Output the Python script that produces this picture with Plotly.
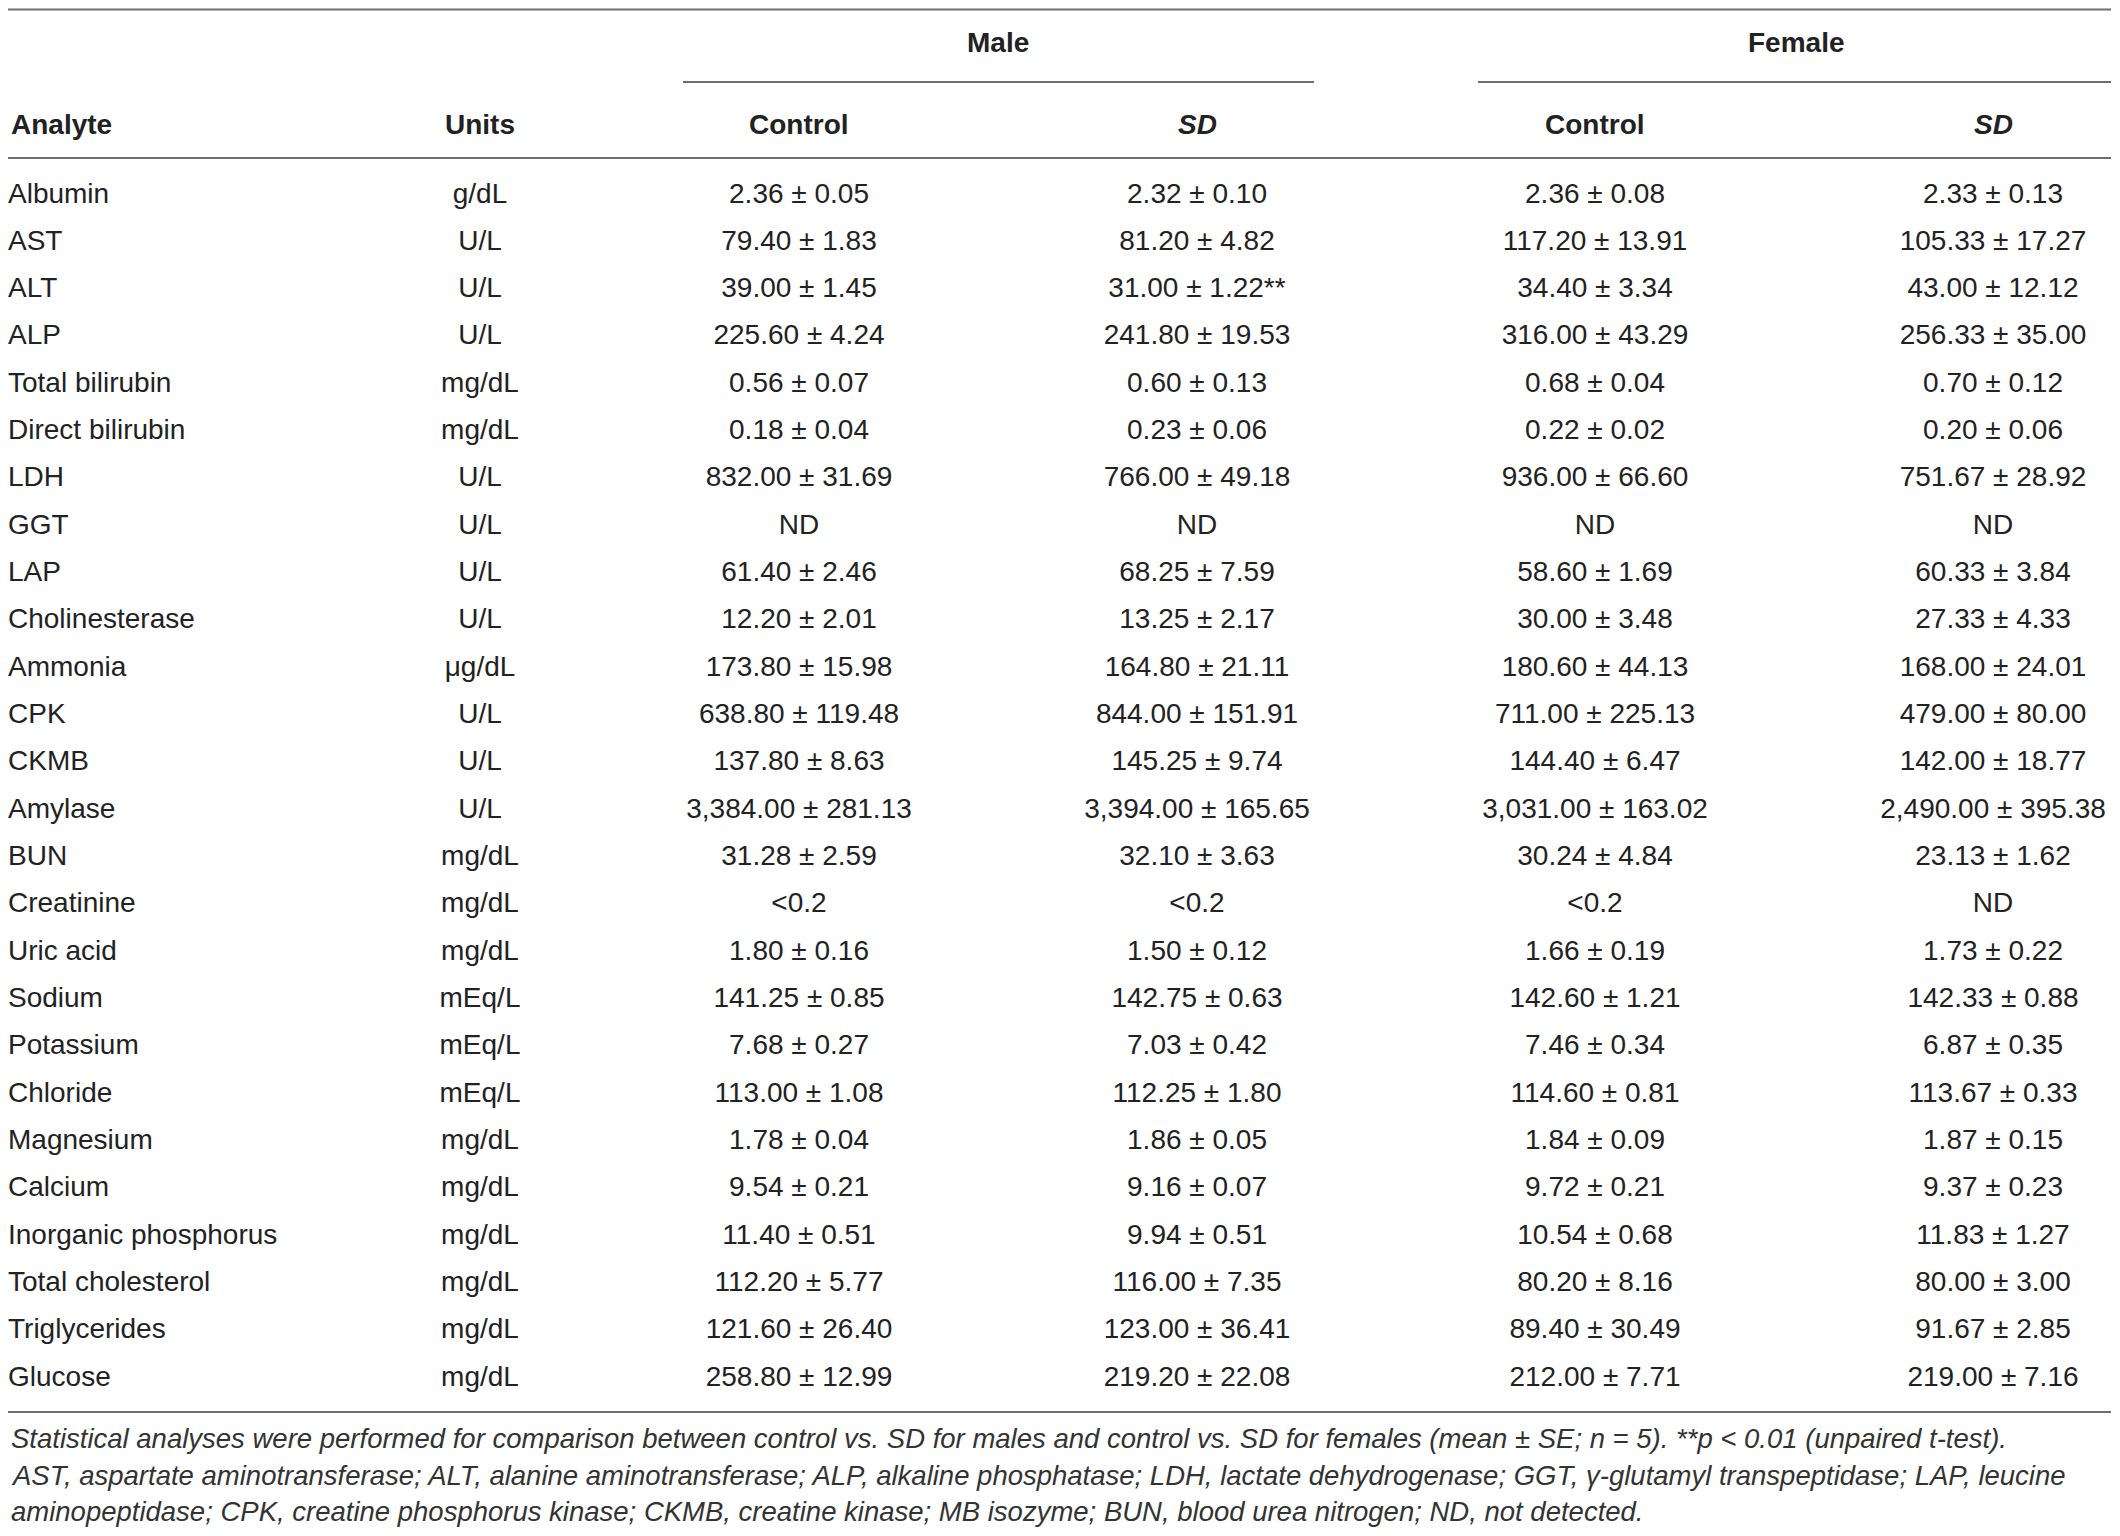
import plotly.graph_objects as go

# ---------------- data ----------------
analytes = ["Albumin", "AST", "ALT", "ALP", "Total bilirubin", "Direct bilirubin", "LDH", "GGT",
            "LAP", "Cholinesterase", "Ammonia", "CPK", "CKMB", "Amylase", "BUN", "Creatinine",
            "Uric acid", "Sodium", "Potassium", "Chloride", "Magnesium", "Calcium",
            "Inorganic phosphorus", "Total cholesterol", "Triglycerides", "Glucose"]
units = ["g/dL", "U/L", "U/L", "U/L", "mg/dL", "mg/dL", "U/L", "U/L", "U/L", "U/L", "μg/dL",
         "U/L", "U/L", "U/L", "mg/dL", "mg/dL", "mg/dL", "mEq/L", "mEq/L", "mEq/L", "mg/dL",
         "mg/dL", "mg/dL", "mg/dL", "mg/dL", "mg/dL"]
male_control = ["2.36 ± 0.05", "79.40 ± 1.83", "39.00 ± 1.45", "225.60 ± 4.24", "0.56 ± 0.07",
                "0.18 ± 0.04", "832.00 ± 31.69", "ND", "61.40 ± 2.46", "12.20 ± 2.01",
                "173.80 ± 15.98", "638.80 ± 119.48", "137.80 ± 8.63", "3,384.00 ± 281.13",
                "31.28 ± 2.59", "<0.2", "1.80 ± 0.16", "141.25 ± 0.85", "7.68 ± 0.27",
                "113.00 ± 1.08", "1.78 ± 0.04", "9.54 ± 0.21", "11.40 ± 0.51", "112.20 ± 5.77",
                "121.60 ± 26.40", "258.80 ± 12.99"]
male_sd = ["2.32 ± 0.10", "81.20 ± 4.82", "31.00 ± 1.22**", "241.80 ± 19.53", "0.60 ± 0.13",
           "0.23 ± 0.06", "766.00 ± 49.18", "ND", "68.25 ± 7.59", "13.25 ± 2.17",
           "164.80 ± 21.11", "844.00 ± 151.91", "145.25 ± 9.74", "3,394.00 ± 165.65",
           "32.10 ± 3.63", "<0.2", "1.50 ± 0.12", "142.75 ± 0.63", "7.03 ± 0.42",
           "112.25 ± 1.80", "1.86 ± 0.05", "9.16 ± 0.07", "9.94 ± 0.51", "116.00 ± 7.35",
           "123.00 ± 36.41", "219.20 ± 22.08"]
female_control = ["2.36 ± 0.08", "117.20 ± 13.91", "34.40 ± 3.34", "316.00 ± 43.29", "0.68 ± 0.04",
                  "0.22 ± 0.02", "936.00 ± 66.60", "ND", "58.60 ± 1.69", "30.00 ± 3.48",
                  "180.60 ± 44.13", "711.00 ± 225.13", "144.40 ± 6.47", "3,031.00 ± 163.02",
                  "30.24 ± 4.84", "<0.2", "1.66 ± 0.19", "142.60 ± 1.21", "7.46 ± 0.34",
                  "114.60 ± 0.81", "1.84 ± 0.09", "9.72 ± 0.21", "10.54 ± 0.68", "80.20 ± 8.16",
                  "89.40 ± 30.49", "212.00 ± 7.71"]
female_sd = ["2.33 ± 0.13", "105.33 ± 17.27", "43.00 ± 12.12", "256.33 ± 35.00", "0.70 ± 0.12",
             "0.20 ± 0.06", "751.67 ± 28.92", "ND", "60.33 ± 3.84", "27.33 ± 4.33",
             "168.00 ± 24.01", "479.00 ± 80.00", "142.00 ± 18.77", "2,490.00 ± 395.38",
             "23.13 ± 1.62", "ND", "1.73 ± 0.22", "142.33 ± 0.88", "6.87 ± 0.35",
             "113.67 ± 0.33", "1.87 ± 0.15", "9.37 ± 0.23", "11.83 ± 1.27", "80.00 ± 3.00",
             "91.67 ± 2.85", "219.00 ± 7.16"]
group_labels = ["Male", "Female"]
column_labels = ["Analyte", "Units", "Control", "SD", "Control", "SD"]
footnote_lines = [
    "Statistical analyses were performed for comparison between control vs. SD for males and control vs. SD for females (mean ± SE; n = 5). **p < 0.01 (unpaired t-test).",
    "AST, aspartate aminotransferase; ALT, alanine aminotransferase; ALP, alkaline phosphatase; LDH, lactate dehydrogenase; GGT, γ-glutamyl transpeptidase; LAP, leucine",
    "aminopeptidase; CPK, creatine phosphorus kinase; CKMB, creatine kinase; MB isozyme; BUN, blood urea nitrogen; ND, not detected.",
]

# ---------------- layout parameters (page pixel coordinates) ----------------
W, H = 2120, 1536
PAGE_MARGIN = 8  # default body margin of the html page
FONT = "Liberation Sans, Arial, Helvetica, sans-serif"
TXT = "#222222"
LINE = "#6e6e6e"
BODY_SIZE = 28
FOOT_SIZE = 27.5
row_y0, row_h = 195.5, 47.33
col_x = [8, 480, 799, 1197, 1595, 1993]
header_y = 124
group_y = 42
group_x = [998, 1796]
group_line_x = [(683, 1314), (1478, 2111)]
group_line_y = 82
foot_y = [1438, 1475, 1511]

rows_y = [row_y0 + i * row_h for i in range(len(analytes))]

fig = go.Figure()

columns = [analytes, units, male_control, male_sd, female_control, female_sd]
for ci, col in enumerate(columns):
    fig.add_trace(go.Scatter(
        x=[col_x[ci]] * len(col), y=rows_y, text=col, mode="text",
        textposition="middle right" if ci == 0 else "middle center",
        textfont=dict(family=FONT, size=BODY_SIZE, color=TXT),
        hoverinfo="skip", showlegend=False, cliponaxis=False,
    ))

# column headers
for ci, lab in enumerate(column_labels):
    t = "<b><i>%s</i></b>" % lab if lab == "SD" else "<b>%s</b>" % lab
    fig.add_annotation(x=col_x[ci] + (1 if ci == 0 else 0), y=header_y, text=t,
                       xref="x", yref="y", showarrow=False,
                       xanchor="left" if ci == 0 else "center", yanchor="middle",
                       font=dict(family=FONT, size=BODY_SIZE, color=TXT))

# group headers
for gx, lab in zip(group_x, group_labels):
    fig.add_annotation(x=gx, y=group_y, text="<b>%s</b>" % lab, xref="x", yref="y",
                       showarrow=False, xanchor="center", yanchor="middle",
                       font=dict(family=FONT, size=BODY_SIZE, color=TXT))

# rules
def hline(x0, x1, y):
    fig.add_shape(type="line", xref="x", yref="y", x0=x0, x1=x1, y0=y, y1=y,
                  line=dict(color=LINE, width=2))

hline(0, 2111, 9.5)
for (x0, x1) in group_line_x:
    hline(x0, x1, group_line_y)
hline(0, 2111, 158)
hline(0, 2111, 1412)

# footnote
for fy, line in zip(foot_y, footnote_lines):
    fig.add_annotation(x=col_x[0] + 1, y=fy, text="<i>%s</i>" % line, xref="x", yref="y",
                       showarrow=False, xanchor="left", yanchor="middle",
                       font=dict(family=FONT, size=FOOT_SIZE, color="#333333"))

# figure sized to fit inside the page (body margin on every side) so nothing overflows
fig.update_layout(
    width=W - 2 * PAGE_MARGIN, height=H - 2 * PAGE_MARGIN, margin=dict(l=0, r=0, t=0, b=0),
    paper_bgcolor="white", plot_bgcolor="white",
    xaxis=dict(range=[PAGE_MARGIN, W - PAGE_MARGIN], visible=False, fixedrange=True),
    yaxis=dict(range=[H - PAGE_MARGIN, PAGE_MARGIN], visible=False, fixedrange=True),
)

fig.write_html("out.html")
